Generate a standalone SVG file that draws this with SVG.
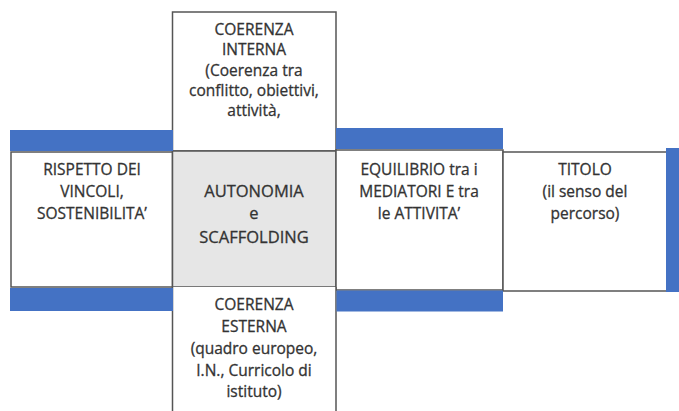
<svg xmlns="http://www.w3.org/2000/svg" width="679" height="411" viewBox="0 0 679 411">
<style>
.box{fill:#ffffff;stroke:#555555;stroke-width:1.5}
.gray{fill:#e6e6e6;stroke:#555555;stroke-width:1.5}
.bar{fill:#4472c4}
text{font-family:"Open Sans",Lato,"Liberation Sans",sans-serif;font-size:15.5px;fill:#333333;stroke:#333333;stroke-width:0.3;text-anchor:middle}
.big{font-size:16.5px}
</style>
<rect width="679" height="411" fill="#ffffff"/>
<g id="top">
<rect class="box" x="172.5" y="12" width="163.5" height="139"/>
<text x="254" y="35">COERENZA</text>
<text x="254" y="55">INTERNA</text>
<text x="254" y="76">(Coerenza tra</text>
<text x="254" y="96">conflitto, obiettivi,</text>
<text x="254" y="116">attività,</text>
</g>
<g id="left">
<rect class="box" x="11" y="152" width="161.5" height="135"/>
<text x="92" y="175">RISPETTO DEI</text>
<text x="92" y="197">VINCOLI,</text>
<text x="92" y="219">SOSTENIBILITA’</text>
</g>
<g id="center">
<rect class="gray" x="172.5" y="151" width="163.5" height="136"/>
<text class="big" x="254" y="197">AUTONOMIA</text>
<text class="big" x="254" y="219">e</text>
<text class="big" x="254" y="243">SCAFFOLDING</text>
</g>
<g id="equilibrio">
<rect class="box" x="336" y="150" width="167" height="140"/>
<text x="419" y="175">EQUILIBRIO tra i</text>
<text x="419" y="197">MEDIATORI E tra</text>
<text x="419" y="219">le ATTIVITA’</text>
</g>
<g id="titolo">
<rect class="box" x="503" y="152" width="164" height="139"/>
<text x="585" y="175">TITOLO</text>
<text x="585" y="197">(il senso del</text>
<text x="585" y="219">percorso)</text>
</g>
<g id="bottom">
<rect x="172.5" y="287" width="163.5" height="130" fill="#ffffff"/>
<path d="M172.5 287V411M336 287V411" stroke="#555555" stroke-width="1.5" fill="none"/>
<text x="254" y="310">COERENZA</text>
<text x="254" y="332">ESTERNA</text>
<text x="254" y="354">(quadro europeo,</text>
<text x="254" y="376">I.N., Curricolo di</text>
<text x="254" y="397">istituto)</text>
</g>
<g id="connectors">
<rect class="bar" x="10" y="130" width="163" height="21"/>
<rect class="bar" x="336" y="128" width="167" height="21"/>
<rect class="bar" x="666" y="148" width="13" height="144"/>
<rect class="bar" x="10" y="288" width="163" height="23"/>
<rect class="bar" x="336.5" y="290.5" width="166.5" height="21"/>
</g>
</svg>
